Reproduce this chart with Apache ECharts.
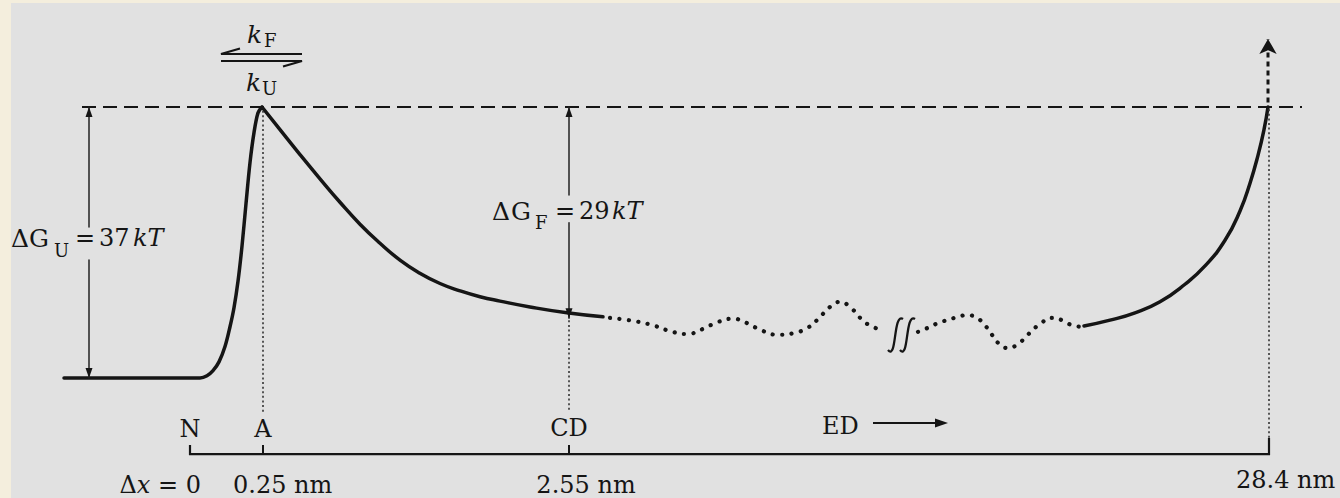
<!DOCTYPE html>
<html>
<head>
<meta charset="utf-8">
<script src="https://cdn.jsdelivr.net/npm/echarts@6.0.0/dist/echarts.min.js"></script>
<style>
html,body{margin:0;padding:0;background:#f4eedd;}
#chart{width:1340px;height:498px;}
</style>
</head>
<body>
<div id="chart"></div>
<script>
// Schematic reaction coordinate (drawing units along the pulling axis) vs free energy (kT)
const riseToBarrier = [[64,0],[150,0],[200,0],[207,0.3],[213,1.0],[219,2.2],[225,4.3],[230,7.0],[234,9.6],[238,13.2],[242,18.0],[246,23.8],[250,29.4],[254,33.5],[258,36.2],[262,37]];
const barrierToCD = [[262,37],[280,33.9],[300,30.5],[320,27.2],[340,24.0],[360,21.0],[380,18.4],[400,16.1],[420,14.3],[440,12.9],[460,11.9],[480,11.1],[500,10.5],[530,9.7],[567,8.9],[603,8.35]];
const edPathA = [[610,8.2],[633,7.8],[653,7.2],[670,6.4],[687,6.0],[703,6.7],[717,7.6],[733,8.1],[747,7.5],[760,6.6],[777,5.9],[793,6.1],[807,6.8],[817,7.9],[830,9.7],[840,10.4],[850,9.7],[864,7.7],[873,7.0],[884,6.3]];
const edPathB = [[918,6.3],[927,6.8],[938,7.5],[947,7.9],[957,8.3],[967,8.6],[977,8.2],[985,7.2],[992,5.9],[998,4.8],[1007,4.1],[1017,4.5],[1025,5.5],[1033,6.6],[1042,7.6],[1052,8.2],[1062,7.9],[1072,7.2],[1082,7.0]];
const riseToEnd = [[1084,7.1],[1110,7.9],[1135,8.9],[1160,10.4],[1185,12.8],[1205,15.3],[1225,18.8],[1240,22.8],[1250,26.6],[1258,30.4],[1264,33.9],[1268,37]];
const barrierLevel = 37;          // kT, top of the barrier (dashed line)
const nativeLevel = 0;            // kT, native state N
const cdLevel = 8.9;              // kT, CD state
const dGU = 37, dGF = 29;         // kT
// marker positions on the schematic coordinate
const posN = 190, posA = 263, posCD = 569, posEnd = 1269;
const tickLabels = ['\u0394x = 0', '0.25 nm', '2.55 nm', '28.4 nm'];
const stateLabels = ['N', 'A', 'CD', 'ED'];

const INK = '#151515';
const SERIF = '"DejaVu Serif", "Liberation Serif", serif';

function line(data, style, extra) {
  return Object.assign({
    type: 'line', data: data, symbol: 'none', showSymbol: false, silent: true,
    animation: false, itemStyle: {color: INK},
    lineStyle: Object.assign({color: INK, width: 3.5, cap: 'round', join: 'round'}, style || {})
  }, extra || {});
}
function arrowSeg(x, from, to, up) {
  return line([[x, from], {value: [x, to], symbol: 'triangle', symbolSize: [7, 10],
    symbolRotate: up ? 0 : 180, symbolOffset: [0, up ? 5 : -5]}],
    {width: 1.5, color: '#222'}, {showSymbol: true});
}
function txt(s, x, y, o) {
  return {type: 'text', x: x, y: y, silent: true, z: 10,
    style: Object.assign({text: s, fontFamily: SERIF, fontSize: 24, fill: INK,
      align: 'left', verticalAlign: 'middle'}, o || {})};
}
const IT = {fontStyle: 'italic'};

const axisY = -10.4, tickTopY = -9.15;

const series = [
  line(riseToBarrier, {}, {smooth: 0.35}),
  line(barrierToCD, {}, {smooth: 0.5}),
  line(edPathA, {type: [0.1, 9.4], width: 4.2}, {smooth: 0.45}),
  line(edPathB, {type: [0.1, 9.4], width: 4.2}, {smooth: 0.45}),
  line(riseToEnd, {}, {smooth: 0.5}),
  // continuation upward (dashed) with arrowhead
  line([[posEnd - 1, barrierLevel + 0.6], {value: [posEnd - 1, barrierLevel + 9.3], symbol: 'arrow', symbolSize: [13, 15]}],
       {type: [5, 4], width: 3, cap: 'butt'}, {showSymbol: true}),
  // barrier level
  line([[82, barrierLevel], [1302, barrierLevel]], {type: [14, 7], width: 2.2, cap: 'butt'}),
  // ΔG_U arrow
  arrowSeg(89, 20.6, nativeLevel + dGU, true),
  arrowSeg(89, 16.1, nativeLevel, false),
  // ΔG_F arrow
  arrowSeg(posCD, 25.0, barrierLevel, true),
  arrowSeg(posCD, 21.2, barrierLevel - dGF + 0.15, false),
  // dotted guides
  line([[posA, barrierLevel - 0.5], [posA, -4.6]], {type: [2, 2.6], width: 1.6, color: '#333', cap: 'butt'}),
  line([[posCD, cdLevel - 0.4], [posCD, -4.4]], {type: [2, 2.6], width: 1.6, color: '#333', cap: 'butt'}),
  line([[posEnd, barrierLevel - 0.3], [posEnd, -8.2]], {type: [2, 2.6], width: 1.6, color: '#333', cap: 'butt'}),
  // extension axis
  line([[posN, tickTopY], [posN, axisY], [posEnd, axisY], [posEnd, -8.2]], {width: 2.2, cap: 'butt', join: 'miter'}),
  line([[posA, axisY], [posA, tickTopY]], {width: 2, cap: 'butt'}),
  line([[posCD, axisY], [posCD, tickTopY]], {width: 2, cap: 'butt'})
];

const graphic = [
  // k_F / k_U with equilibrium harpoons
  txt('k', 247, 34.5, {fontStyle: 'italic', fontSize: 25}), txt('F', 264, 40.0, {fontSize: 18}),
  {type: 'polyline', silent: true, shape: {points: [[240, 48.5], [221, 54], [302, 54]]}, style: {stroke: INK, lineWidth: 2.2, fill: null}},
  {type: 'polyline', silent: true, shape: {points: [[221, 61], [302, 61], [283, 66.5]]}, style: {stroke: INK, lineWidth: 2.2, fill: null}},
  txt('k', 246, 82.5, {fontStyle: 'italic', fontSize: 25}), txt('U', 262, 88.0, {fontSize: 18}),
  // ΔG_U = 37 kT
  txt('\u0394', 11, 238.2, {fontSize: 25}), txt('G', 29, 238.2, {fontSize: 25}), txt('U', 54, 250.0, {fontSize: 18}),
  txt('=', 85, 238.2, {align: 'center'}), txt(String(dGU), 99, 238.2), txt('kT', 133, 238.2, IT),
  // ΔG_F = 29 kT
  txt('\u0394', 492, 211.2, {fontSize: 25}), txt('G', 511, 211.2, {fontSize: 25}), txt('F', 535, 222.0, {fontSize: 18}),
  txt('=', 565, 211.2, {align: 'center'}), txt(String(dGF), 579, 211.2), txt('kT', 612, 211.2, IT),
  // state labels
  txt(stateLabels[0], 190, 429, {align: 'center'}),
  txt(stateLabels[1], 263, 429, {align: 'center'}),
  txt(stateLabels[2], 569, 428, {align: 'center'}),
  txt(stateLabels[3], 822, 426),
  {type: 'line', silent: true, shape: {x1: 873, y1: 423, x2: 938, y2: 423}, style: {stroke: INK, lineWidth: 1.8}},
  {type: 'polygon', silent: true, shape: {points: [[935, 418.5], [948, 423], [935, 427.5]]}, style: {fill: INK}},
  // distance labels
  {type: 'text', x: 201, y: 485.2, silent: true, z: 10,
   style: {text: '{r|\u0394}{i|x}{r| = 0}', align: 'right', verticalAlign: 'middle', fill: INK,
     rich: {r: {fontFamily: SERIF, fontSize: 24, fill: INK}, i: {fontFamily: SERIF, fontSize: 24, fontStyle: 'italic', fill: INK}}}},
  txt(tickLabels[1], 233, 485.2),
  txt(tickLabels[2], 586, 485.2, {align: 'center'}),
  txt(tickLabels[3], 1236, 479.5),
  // break marks in the ED landscape
  {type: 'bezierCurve', silent: true, shape: {x1: 888, y1: 350, cpx1: 897, cpy1: 361, cpx2: 893, cpy2: 312, x2: 903, y2: 319}, style: {stroke: INK, lineWidth: 2.3, fill: null}},
  {type: 'bezierCurve', silent: true, shape: {x1: 900, y1: 350, cpx1: 909, cpy1: 361, cpx2: 905, cpy2: 312, x2: 915, y2: 319}, style: {stroke: INK, lineWidth: 2.3, fill: null}}
];

const chart = echarts.init(document.getElementById('chart'), null, {renderer: 'svg'});
chart.setOption({
  animation: false,
  backgroundColor: '#f4eedd',
  grid: {left: 11, top: 3, right: 0, bottom: 0, show: true, backgroundColor: '#e1e1e1', borderWidth: 0},
  xAxis: {type: 'value', min: 11, max: 1340, show: false},
  yAxis: {type: 'value', min: -16.384, max: 51.2, show: false},
  series: series,
  graphic: graphic
});
</script>
</body>
</html>
